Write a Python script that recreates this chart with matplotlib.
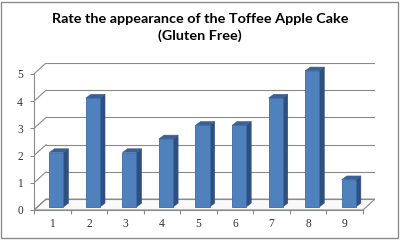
import matplotlib
matplotlib.use("Agg")
import matplotlib.pyplot as plt
from matplotlib.patches import Rectangle

# ---- data ----
categories = [1, 2, 3, 4, 5, 6, 7, 8, 9]
ratings = [2, 4, 2, 2.5, 3, 3, 4, 5, 1]
yticks = [0, 1, 2, 3, 4, 5]
title = "Rate the appearance of the Toffee Apple Cake\n(Gluten Free)"

# ---- styling / geometry (in axis units) ----
DX, DY = 0.33, 0.40        # wall depth offset
BW = 0.385                 # bar width
OX, OY = 0.11, 0.11        # bar front face offset from front plane
SX, SY = 0.14, 0.14        # bar depth
GRID = "#8a8a8a"
FRONT = "#4F81BD"
SIDE = "#2D5080"
TOP = "#3A6096"
EDGE = "#3B69A6"

fig = plt.figure(figsize=(4.0, 2.4), dpi=100)
fig.patch.set_facecolor("white")
fig.patches.append(Rectangle((0.003, 0.008), 0.992, 0.985, transform=fig.transFigure,
                             fill=False, edgecolor="#8c8c8c", linewidth=1.0))

ax = fig.add_axes([0.085, 0.125, 0.8525, 0.6125])
ax.set_xlim(0.5, 9.5 + DX)
ax.set_ylim(0, 5 + DY)
ax.set_facecolor("none")

xmin, xmax = 0.5, len(categories) + 0.5
ymax = max(yticks)

# floor
ax.fill([xmin, xmax, xmax + DX, xmin + DX], [0, 0, DY, DY],
        facecolor="#f9f9f9", edgecolor=GRID, linewidth=0.8, zorder=1)
# back-wall gridlines and left-wall diagonals
for t in yticks:
    ax.plot([xmin + DX, xmax + DX], [t + DY, t + DY], color=GRID, lw=0.8, zorder=1)
    ax.plot([xmin, xmin + DX], [t, t + DY], color=GRID, lw=0.8, zorder=1)

# bars
for i, (c, v) in enumerate(zip(categories, ratings)):
    x0 = c + OX - BW / 2
    x1 = c + OX + BW / 2
    b, t = OY, v + OY
    z = 3 + i * 0.01
    ax.fill([x1, x1 + SX, x1 + SX, x1], [b, b + SY, t + SY, t],
            facecolor=SIDE, edgecolor=SIDE, lw=0.4, zorder=z)
    ax.fill([x0, x1, x1 + SX, x0 + SX], [t, t, t + SY, t + SY],
            facecolor=TOP, edgecolor=TOP, lw=0.4, zorder=z)
    ax.fill([x0, x1, x1, x0], [b, b, t, t],
            facecolor=FRONT, edgecolor=EDGE, lw=0.6, zorder=z + 0.001)

# axes
for s in ["top", "right"]:
    ax.spines[s].set_visible(False)
ax.spines["left"].set_bounds(0, ymax)
ax.spines["bottom"].set_bounds(xmin, xmax)
for s in ["left", "bottom"]:
    ax.spines[s].set_color(GRID)
    ax.spines[s].set_linewidth(0.8)

ax.set_yticks(yticks)
ax.set_yticklabels([str(t) for t in yticks], family="Liberation Serif", fontsize=8.3, color="#333333")
ax.tick_params(axis="y", length=3, width=0.8, color=GRID, pad=5)

ax.set_xticks(categories)
ax.set_xticklabels([str(c) for c in categories], family="Liberation Serif", fontsize=8.3, color="#333333")
ax.set_xticks([c + 0.5 for c in [0] + categories], minor=True)
ax.tick_params(axis="x", which="major", length=0, pad=6)
ax.tick_params(axis="x", which="minor", length=3, width=0.8, color=GRID)

fig.text(0.5, 0.945, title, ha="center", va="top", family="Lato", weight="bold",
         fontsize=10.4, linespacing=1.4, color="#000000")

fig.savefig("out.png", dpi=100)
